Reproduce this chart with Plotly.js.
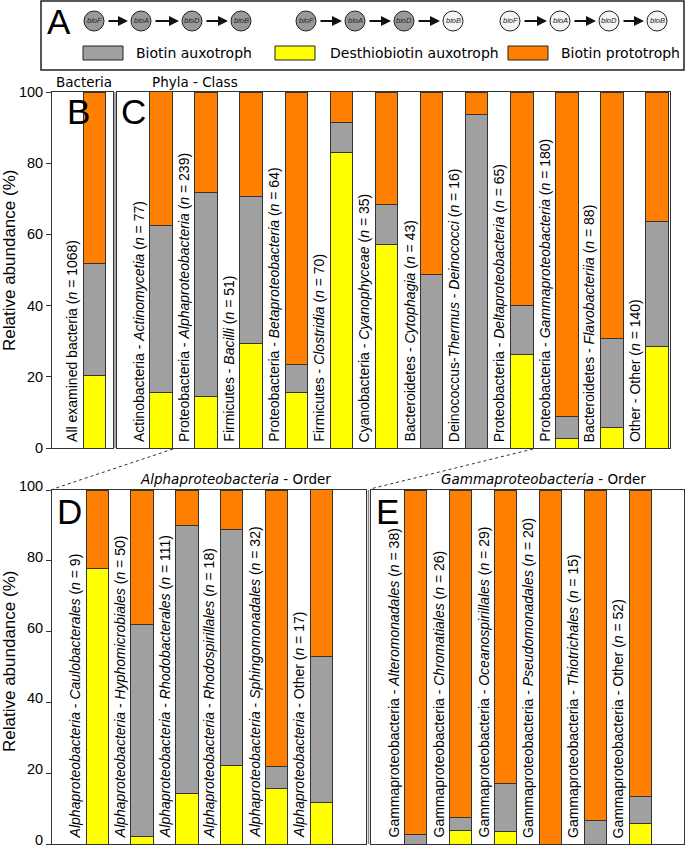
<!DOCTYPE html>
<html><head><meta charset="utf-8">
<script src="https://cdn.plot.ly/plotly-3.0.1.min.js"></script>
<style>html,body{margin:0;padding:0;background:#fff}</style>
</head><body><div id="chart" style="width:685px;height:850px"></div>
<script>
// ---------------- DATA (percent of genomes) ----------------
const bLabels = ["All examined bacteria (<i>n</i> = 1068)"];
const bDesthio = [20.3];
const bAuxo = [31.5];
const bProto = [48.2];

const cLabels = [
  "Actinobacteria - <i>Actinomycetia</i> (<i>n</i> = 77)",
  "Proteobacteria - <i>Alphaproteobacteria</i> (<i>n</i> = 239)",
  "Firmicutes - <i>Bacilli</i> (<i>n</i> = 51)",
  "Proteobacteria - <i>Betaproteobacteria</i> (<i>n</i> = 64)",
  "Firmicutes - <i>Clostridia</i> (<i>n</i> = 70)",
  "Cyanobacteria - <i>Cyanophyceae</i> (<i>n</i> = 35)",
  "Bacteroidetes - <i>Cytophagia</i> (<i>n</i> = 43)",
  "Deinococcus-<i>Thermus</i> - <i>Deinococci</i> (<i>n</i> = 16)",
  "Proteobacteria - <i>Deltaproteobacteria</i> (<i>n</i> = 65)",
  "Proteobacteria - <i>Gammaproteobacteria</i> (<i>n</i> = 180)",
  "Bacteroidetes - <i>Flavobacteriia</i> (<i>n</i> = 88)",
  "Other - Other (<i>n</i> = 140)"
];
const cDesthio = [15.6, 14.6, 29.4, 15.6, 82.9, 57.1, 0, 0, 26.2, 2.8, 5.7, 28.6];
const cAuxo    = [46.8, 57.3, 41.2, 7.8, 8.6, 11.4, 48.8, 93.8, 13.8, 6.1, 25.0, 35.0];
const cProto   = [37.7, 28.0, 29.4, 76.6, 8.6, 31.4, 51.2, 6.2, 60.0, 91.1, 69.3, 36.4];

const dLabels = [
  "<i>Alphaproteobacteria</i> - <i>Caulobacterales</i> (<i>n</i> = 9)",
  "<i>Alphaproteobacteria</i> - <i>Hyphomicrobiales</i> (<i>n</i> = 50)",
  "<i>Alphaproteobacteria</i> - <i>Rhodobacterales</i> (<i>n</i> = 111)",
  "<i>Alphaproteobacteria</i> - <i>Rhodospirillales</i> (<i>n</i> = 18)",
  "<i>Alphaproteobacteria</i> - <i>Sphingomonadales</i> (<i>n</i> = 32)",
  "<i>Alphaproteobacteria</i> - Other (<i>n</i> = 17)"
];
const dDesthio = [77.8, 2.0, 14.4, 22.2, 15.6, 11.8];
const dAuxo    = [0, 60.0, 75.7, 66.7, 6.3, 41.2];
const dProto   = [22.2, 38.0, 9.9, 11.1, 78.1, 47.1];

const eLabels = [
  "Gammaproteobacteria - <i>Alteromonadales</i> (<i>n</i> = 38)",
  "Gammaproteobacteria - <i>Chromatiales</i> (<i>n</i> = 26)",
  "Gammaproteobacteria - <i>Oceanospirillales</i> (<i>n</i> = 29)",
  "Gammaproteobacteria - <i>Pseudomonadales</i> (<i>n</i> = 20)",
  "Gammaproteobacteria - <i>Thiotrichales</i> (<i>n</i> = 15)",
  "Gammaproteobacteria - Other (<i>n</i> = 52)"
];
const eDesthio = [0, 3.8, 3.4, 0, 0, 5.8];
const eAuxo    = [2.6, 3.8, 13.8, 0, 6.7, 7.7];
const eProto   = [97.4, 92.3, 82.8, 100, 93.3, 86.5];

const yTicks = [0, 20, 40, 60, 80, 100];
const genes = ["bioF", "bioA", "bioD", "bioB"];
const legendNames = ["Biotin auxotroph", "Desthiobiotin auxotroph", "Biotin prototroph"];

// ---------------- STYLE ----------------
const W = 685, H = 850;
const X = v => v / W;
const Y = v => 1 - v / H;
const COL = {aux: "#a0a0a0", des: "#ffff00", pro: "#ff8000", line: "#333333"};
const SANS = "Liberation Sans, Arial, sans-serif";
const DJV = "DejaVu Sans, Verdana, sans-serif";

function stack(xa, ya, D, A, P) {
  const xs = D.map((_, i) => i);
  const base = {type: "bar", xaxis: xa, yaxis: ya, x: xs, width: 0.5, showlegend: false,
                hoverinfo: "skip"};
  return [
    Object.assign({}, base, {y: D, name: legendNames[1], marker: {color: COL.des, line: {color: COL.line, width: 1}}}),
    Object.assign({}, base, {y: A, name: legendNames[0], marker: {color: COL.aux, line: {color: COL.line, width: 1}}}),
    Object.assign({}, base, {y: P, name: legendNames[2], marker: {color: COL.pro, line: {color: COL.line, width: 1}}})
  ];
}

const data = [].concat(
  stack("x", "y", bDesthio, bAuxo, bProto),
  stack("x2", "y2", cDesthio, cAuxo, cProto),
  stack("x3", "y3", dDesthio, dAuxo, dProto),
  stack("x4", "y4", eDesthio, eAuxo, eProto)
);

function xax(d0, d1, r0, r1, anchor) {
  return {domain: [X(d0), X(d1)], range: [r0, r1], anchor: anchor, showticklabels: false,
          ticks: "", showgrid: false, zeroline: false, showline: true, mirror: true,
          linecolor: COL.line, linewidth: 1, fixedrange: true};
}
function yax(d0, d1, anchor, labels, shift) {
  return {domain: [Y(d1), Y(d0)], range: [0, 100], anchor: anchor, tickvals: yTicks,
          showticklabels: labels, ticks: labels ? "outside" : "", ticklen: 5, tickcolor: COL.line,
          ticklabeloverflow: "allow", ticklabelshift: shift || 0,
          tickfont: {family: SANS, size: 14.5, color: "#000"}, showgrid: false, zeroline: false,
          showline: true, mirror: true, linecolor: COL.line, linewidth: 1, fixedrange: true};
}

const annotations = [];
function labelAnn(xa, ya, labels) {
  labels.forEach((t, i) => annotations.push({xref: xa, yref: ya, x: i - 0.5, y: 0, text: t,
    textangle: -90, xanchor: "center", yanchor: "bottom", yshift: 4, showarrow: false,
    font: {family: SANS, size: 14, color: "#000"}}));
}
labelAnn("x", "y", bLabels);
labelAnn("x2", "y2", cLabels);
labelAnn("x3", "y3", dLabels);
labelAnn("x4", "y4", eLabels);

function pa(x, y, text, o) {
  annotations.push(Object.assign({xref: "paper", yref: "paper", x: X(x), y: Y(y), text: text,
    showarrow: false, xanchor: "left", yanchor: "middle", font: {family: SANS, size: 14, color: "#000"}}, o || {}));
}
// Panel letters
pa(65, 111, "B", {font: {family: SANS, size: 35, color: "#000"}});
pa(119, 111, "C", {font: {family: SANS, size: 35, color: "#000"}});
pa(55, 511, "D", {font: {family: SANS, size: 35, color: "#000"}});
pa(374, 511, "E", {font: {family: SANS, size: 35, color: "#000"}});
pa(45, 22, "A", {font: {family: SANS, size: 35, color: "#000"}});
// Panel headers
pa(54, 82, "Bacteria", {font: {family: DJV, size: 13.5, color: "#000"}});
pa(150, 82, "Phyla - Class", {font: {family: DJV, size: 13.5, color: "#000"}});
pa(235, 479, "<i>Alphaproteobacteria</i> - Order", {xanchor: "center", font: {family: DJV, size: 13.5, color: "#000"}});
pa(543, 479, "<i>Gammaproteobacteria</i> - Order", {xanchor: "center", font: {family: DJV, size: 13.5, color: "#000"}});
// y titles
pa(9, 261, "Relative abundance (%)", {xanchor: "center", textangle: -90, font: {family: SANS, size: 17, color: "#000"}});
pa(9, 662, "Relative abundance (%)", {xanchor: "center", textangle: -90, font: {family: SANS, size: 17, color: "#000"}});

const shapes = [];
// separators between B|C and D|E
shapes.push({type: "line", xref: "paper", yref: "paper", x0: X(115), x1: X(115), y0: Y(448), y1: Y(92), line: {color: "#888", width: 1.5}});
shapes.push({type: "line", xref: "paper", yref: "paper", x0: X(368.5), x1: X(368.5), y0: Y(844), y1: Y(490), line: {color: "#888", width: 1.5}});
// dotted connectors
shapes.push({type: "line", xref: "paper", yref: "paper", x0: X(173), y0: Y(449), x1: X(53), y1: Y(489), line: {color: "#333", width: 1, dash: "dot"}});
shapes.push({type: "line", xref: "paper", yref: "paper", x0: X(533), y0: Y(449), x1: X(370), y1: Y(489), line: {color: "#333", width: 1, dash: "dot"}});

// Panel A box
shapes.push({type: "rect", xref: "paper", yref: "paper", x0: X(41), x1: X(684), y0: Y(70), y1: Y(1), line: {color: "#222", width: 1.5}, fillcolor: "rgba(0,0,0,0)"});
// pathway diagrams
const groups = [[94, 141, 192, 241], [306, 355, 404, 453], [510, 560, 609, 657]];
const filled = [[1, 1, 1, 1], [1, 1, 1, 0], [0, 0, 0, 0]];
const R = 10, CY = 21;
groups.forEach((g, gi) => {
  g.forEach((cx, k) => {
    shapes.push({type: "circle", xref: "paper", yref: "paper", x0: X(cx - R), x1: X(cx + R), y0: Y(CY + R), y1: Y(CY - R),
      fillcolor: filled[gi][k] ? "#999999" : "#f4f4f4", line: {color: "#222", width: 1}});
    annotations.push({xref: "paper", yref: "paper", x: X(cx), y: Y(CY), text: "<i>" + genes[k] + "</i>", showarrow: false,
      xanchor: "center", yanchor: "middle", font: {family: SANS, size: 7.5, color: "#222"}});
    if (k < 3) {
      const x0 = cx + R + 3, x1 = g[k + 1] - R - 3;
      annotations.push({xref: "paper", yref: "paper", x: X(x1), y: Y(CY), ax: -(x1 - x0), ay: 0, text: "",
        showarrow: true, arrowhead: 2, arrowsize: 1, arrowwidth: 2, arrowcolor: "#111", standoff: 0});
    }
  });
});
// legend items
const legItems = [[83, COL.aux, 134, legendNames[0]], [275, COL.des, 328, legendNames[1]], [508, COL.pro, 559, legendNames[2]]];
legItems.forEach(([bx, c, tx, t]) => {
  shapes.push({type: "rect", xref: "paper", yref: "paper", x0: X(bx), x1: X(bx + 40), y0: Y(60), y1: Y(46),
    fillcolor: c, line: {color: "#222", width: 1}});
  pa(tx, 53, t, {font: {family: DJV, size: 14, color: "#000"}});
});

const layout = {
  width: W, height: H, margin: {l: 0, r: 0, t: 0, b: 0}, paper_bgcolor: "#fff", plot_bgcolor: "#fff",
  barmode: "stack", showlegend: false,
  xaxis: xax(52, 113, -0.942, 0.41, "y"),
  yaxis: yax(92, 448, "x", true),
  xaxis2: xax(117, 670, -0.976, 11.286, "y2"),
  yaxis2: yax(92, 448, "x2", false),
  xaxis3: xax(52, 366, -1.011, 5.998, "y3"),
  yaxis3: yax(490, 844, "x3", true, -4),
  xaxis4: xax(371, 684, -0.989, 5.967, "y4"),
  yaxis4: yax(490, 844, "x4", false),
  annotations: annotations, shapes: shapes
};
Plotly.newPlot("chart", data, layout, {staticPlot: true, displayModeBar: false});
</script></body></html>
